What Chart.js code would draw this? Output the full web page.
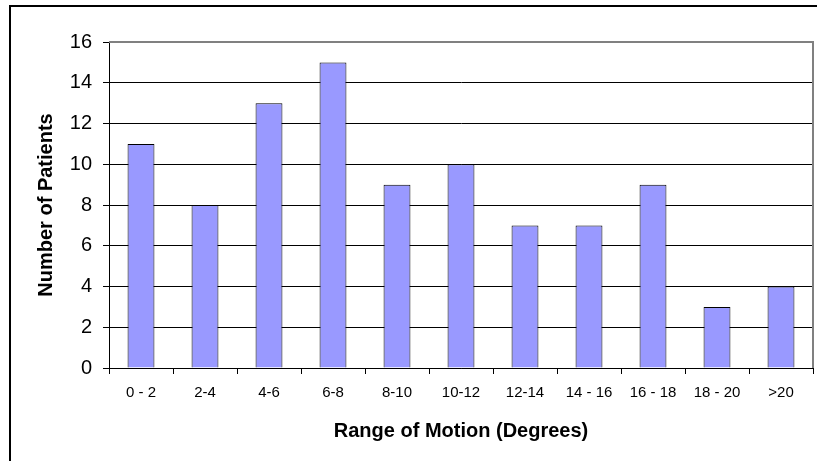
<!DOCTYPE html>
<html><head><meta charset="utf-8">
<script src="https://cdn.jsdelivr.net/npm/chart.js@4/dist/chart.umd.min.js"></script>
<style>
html,body{margin:0;padding:0;background:#fff;}
#wrap{position:relative;width:817px;height:461px;}
#frame{position:absolute;left:9px;top:5px;width:820px;height:470px;border-left:2px solid #000;border-top:2px solid #000;box-sizing:border-box;}
canvas{position:absolute;left:0;top:0;}
</style></head>
<body><div id="wrap"><div id="frame"></div><canvas id="c" width="817" height="461"></canvas></div>
<script>
const categories = ["0 - 2","2-4","4-6","6-8","8-10","10-12","12-14","14 - 16","16 - 18","18 - 20",">20"];
const patients = [11, 8, 13, 15, 9, 10, 7, 7, 9, 3, 4];
const yTicks = [0, 2, 4, 6, 8, 10, 12, 14, 16];

const FONT = "Arial, 'Liberation Sans', sans-serif";
const plotBorder = {
  id: 'plotBorder',
  afterDraw(chart) {
    const a = chart.chartArea, ctx = chart.ctx;
    ctx.save();
    ctx.strokeStyle = '#808080';
    ctx.lineWidth = 2;
    ctx.beginPath();
    ctx.moveTo(a.left, a.top);
    ctx.lineTo(a.right, a.top);
    ctx.lineTo(a.right, a.bottom);
    ctx.stroke();
    ctx.restore();
  }
};

new Chart(document.getElementById('c'), {
  type: 'bar',
  data: {
    labels: categories,
    datasets: [{
      data: patients,
      backgroundColor: '#9999FF',
      borderColor: '#000000',
      borderWidth: 1,
      barPercentage: 0.84,
      categoryPercentage: 0.5
    }]
  },
  options: {
    responsive: false,
    animation: false,
    layout: { padding: { top: 42, right: 4, left: 0, bottom: 0 } },
    plugins: { legend: { display: false }, tooltip: { enabled: false } },
    scales: {
      x: {
        grid: { display: true, drawOnChartArea: false, offset: true, color: '#000', tickLength: 6, tickWidth: 1 },
        border: { color: '#000', width: 1 },
        ticks: { color: '#000', font: { family: FONT, size: 15 }, padding: 10, maxRotation: 0, autoSkip: false },
        title: { display: true, text: 'Range of Motion (Degrees)', color: '#000', font: { family: FONT, size: 20, weight: 'bold' }, padding: { top: 0, bottom: 18 } },
        afterFit(s) { s.height = 93; }
      },
      y: {
        min: 0, max: 16,
        afterBuildTicks(s) { s.ticks = yTicks.map(v => ({ value: v })); },
        grid: { color: '#000', tickLength: 6, lineWidth: 1 },
        border: { color: '#000', width: 1 },
        ticks: { color: '#000', font: { family: FONT, size: 20 }, padding: 11 },
        title: { display: true, text: 'Number of Patients', color: '#000', font: { family: FONT, size: 20, weight: 'bold' }, padding: { top: 34, bottom: 0 } },
        afterFit(s) { s.width = 109; }
      }
    }
  },
  plugins: [plotBorder]
});
</script></body></html>
